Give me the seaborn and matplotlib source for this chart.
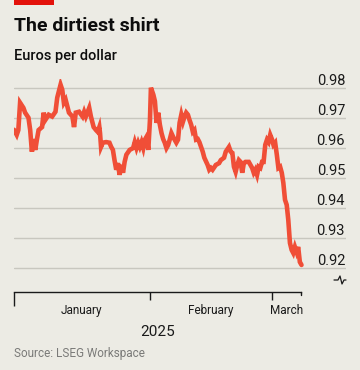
import numpy as np
import pandas as pd
import matplotlib
matplotlib.use("Agg")
import matplotlib.pyplot as plt
import matplotlib.transforms as mtransforms
from matplotlib.lines import Line2D
from matplotlib.patches import Rectangle
import seaborn as sns

# ---- data (days after 1 Jan 2025, euros per dollar) ----
day_offsets = [
    0.00, 0.62, 0.99, 1.39, 2.15, 2.54, 3.31, 3.70, 4.09, 4.46, 4.86, 5.25, 5.62,
    6.41, 6.78, 7.17, 7.93, 8.72, 9.48, 9.88, 10.64, 11.03, 11.40, 11.80, 12.56,
    13.35, 13.72, 14.11, 14.87, 15.66, 16.03, 16.42, 17.19, 17.58, 18.20, 18.74,
    19.13, 19.50, 19.66, 19.89, 20.29, 21.05, 21.81, 22.21, 22.60, 22.97, 23.36,
    23.76, 24.12, 24.52, 24.91, 25.28, 25.68, 26.44, 27.22, 27.59, 27.99, 28.38,
    28.75, 29.14, 29.54, 29.91, 30.30, 30.69, 31.07, 31.29, 31.45, 31.84, 32.20,
    32.58, 32.96, 33.33, 33.71, 34.09, 34.45, 34.84, 35.22, 35.58, 35.97, 36.35,
    36.71, 37.10, 37.48, 37.84, 38.23, 38.61, 38.97, 39.35, 39.74, 40.10, 40.48,
    40.87, 41.23, 41.61, 42.00, 42.36, 42.74, 43.13, 43.49, 44.25, 44.62, 45.00,
    45.38, 46.13, 46.87, 47.26, 48.00, 48.39, 49.13, 49.52, 49.90, 50.26, 50.65,
    51.03, 51.39, 51.77, 52.16, 52.52, 52.90, 53.65, 54.03, 54.42, 54.78, 55.16,
    55.54, 55.91, 56.29, 56.68, 57.04, 57.42, 57.81, 58.17, 58.55, 58.93, 59.29,
    59.68, 60.06, 60.42, 60.81, 61.19, 61.55, 61.93, 62.32, 62.68, 63.06, 63.45,
    63.81, 64.19, 64.58, 64.94, 65.32, 65.70,
]
euros_per_dollar = [
    0.9661, 0.9644, 0.9660, 0.9751, 0.9734, 0.9718, 0.9701, 0.9660, 0.9588, 0.9630,
    0.9594, 0.9630, 0.9660, 0.9670, 0.9718, 0.9694, 0.9711, 0.9705, 0.9721, 0.9768,
    0.9811, 0.9794, 0.9751, 0.9761, 0.9718, 0.9705, 0.9670, 0.9718, 0.9721, 0.9705,
    0.9721, 0.9705, 0.9734, 0.9705, 0.9670, 0.9660, 0.9654, 0.9670, 0.9650, 0.9604,
    0.9618, 0.9620, 0.9618, 0.9604, 0.9594, 0.9560, 0.9528, 0.9550, 0.9511, 0.9544,
    0.9518, 0.9554, 0.9578, 0.9594, 0.9600, 0.9620, 0.9600, 0.9618, 0.9604, 0.9620,
    0.9600, 0.9628, 0.9638, 0.9594, 0.9694, 0.9801, 0.9794, 0.9778, 0.9756, 0.9684,
    0.9718, 0.9678, 0.9650, 0.9630, 0.9618, 0.9600, 0.9610, 0.9628, 0.9650, 0.9638,
    0.9628, 0.9618, 0.9628, 0.9684, 0.9711, 0.9688, 0.9705, 0.9718, 0.9711, 0.9694,
    0.9678, 0.9654, 0.9660, 0.9628, 0.9630, 0.9620, 0.9604, 0.9588, 0.9568, 0.9544,
    0.9528, 0.9534, 0.9528, 0.9544, 0.9550, 0.9560, 0.9568, 0.9588, 0.9604, 0.9588,
    0.9584, 0.9538, 0.9521, 0.9544, 0.9560, 0.9554, 0.9518, 0.9550, 0.9554, 0.9554,
    0.9544, 0.9534, 0.9518, 0.9528, 0.9511, 0.9538, 0.9534, 0.9554, 0.9554, 0.9611,
    0.9628, 0.9620, 0.9644, 0.9630, 0.9611, 0.9618, 0.9578, 0.9534, 0.9538, 0.9518,
    0.9484, 0.9428, 0.9411, 0.9361, 0.9284, 0.9261, 0.9251, 0.9271, 0.9254, 0.9271,
    0.9221, 0.9211,
]
y_ticks = [0.92, 0.93, 0.94, 0.95, 0.96, 0.97, 0.98]
month_starts = ["2025-01-01", "2025-02-01", "2025-03-01"]
month_labels = ["January", "February", "March"]
year_label = "2025"

start = pd.Timestamp("2025-01-01")
df = pd.DataFrame({
    "date": start + pd.to_timedelta(day_offsets, unit="D"),
    "rate": euros_per_dollar,
})

# ---- style ----
BG = "#ECEBE4"
LINE = "#F04E37"
GRID = "#C8C7BF"
sns.set_theme(style="white")
plt.rcParams["font.family"] = ["Roboto", "DejaVu Sans"]

W, H = 360, 370
fig = plt.figure(figsize=(3.6, 3.7), dpi=100, facecolor=BG)
ax = fig.add_axes([14 / W, 1 - 292 / H, 332 / W, 213 / H])
ax.set_facecolor(BG)

sns.lineplot(data=df, x="date", y="rate", ax=ax, color=LINE, linewidth=3.3,
             solid_joinstyle="miter", zorder=3)

end = df["date"].iloc[-1]
x_right = start + (end - start) * (332 / 287.5)
ax.set_xlim(start, x_right)
ax.set_ylim(0.9121, 0.983)

# gridlines
for v in y_ticks:
    ax.axhline(v, color=GRID, linewidth=1.0, zorder=1)

# y labels above gridlines at right
for v in y_ticks:
    ax.text(0.997, v, f"{v:.2f}", transform=ax.get_yaxis_transform(),
            ha="right", va="bottom", fontsize=10.5, color="#1a1a1a")

for s in ["top", "right", "left"]:
    ax.spines[s].set_visible(False)
ax.spines["bottom"].set_color("#1a1a1a")
ax.spines["bottom"].set_linewidth(1.0)
ax.spines["bottom"].set_bounds(matplotlib.dates.date2num(start),
                               matplotlib.dates.date2num(end))
ax.set_yticks([])
ms = pd.to_datetime(month_starts)
ax.set_xticks([ms[0]])
ax.set_xticks(list(ms[1:]), minor=True)
ax.set_xticklabels([""])
ax.tick_params(axis="x", which="major", length=10, width=1.0, color="#1a1a1a",
               direction="out", bottom=True)
ax.tick_params(axis="x", which="minor", length=6, width=1.0, color="#1a1a1a",
               direction="out", bottom=True)
ax.set_xlabel("")
ax.set_ylabel("")
# end tick
trans = mtransforms.blended_transform_factory(ax.transData, ax.transAxes)
ax.plot([end, end], [0, -0.015], transform=trans, color="#1a1a1a",
        linewidth=1.0, clip_on=False)

# month labels centered between ticks
bounds = list(ms) + [end]
for i, lab in enumerate(month_labels):
    mid = bounds[i] + (bounds[i + 1] - bounds[i]) / 2
    ax.text(mid, -0.085, lab, transform=trans, ha="center", va="center",
            fontsize=8.5, color="#1a1a1a")
ax.text(start + (end - start) / 2, -0.188, year_label, transform=trans,
        ha="center", va="center", fontsize=11, color="#1a1a1a")

# titles
fig.add_artist(Rectangle((14 / W, 1 - 5 / H), 40 / W, 5 / H,
                         transform=fig.transFigure, color="#E3120B", lw=0))
fig.text(14 / W, 1 - 26 / H, "The dirtiest shirt", fontsize=14,
         fontweight="bold", ha="left", va="center", color="#0d0d0d")
fig.text(14 / W, 1 - 56 / H, "Euros per dollar", fontsize=10.5,
         fontweight="medium", ha="left", va="center", color="#0d0d0d")
fig.text(14 / W, 1 - 354 / H, "Source: LSEG Workspace", fontsize=8.5,
         ha="left", va="center", color="#7a7a78")

# axis-break squiggle
px = np.array([334, 338, 340, 342, 344, 346])
py = np.array([280, 280, 276, 284, 280, 280])
fig.add_artist(Line2D(px / W, 1 - py / H, transform=fig.transFigure,
                      color="#1a1a1a", linewidth=0.9))

fig.savefig("out.png", dpi=100, facecolor=BG)
